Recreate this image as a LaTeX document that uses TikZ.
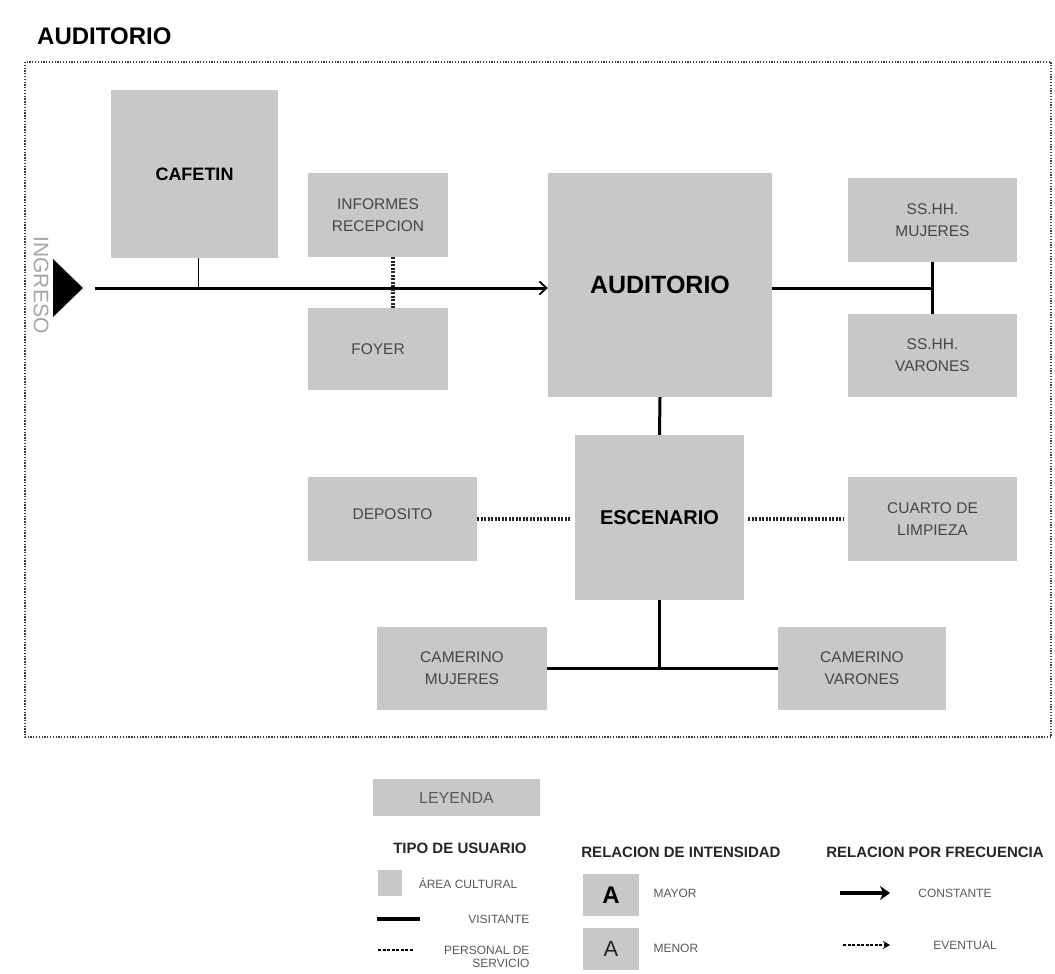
\documentclass[tikz,border=0pt]{standalone}
\usepackage{fontspec}
\setmainfont{Liberation Sans}
\usetikzlibrary{arrows.meta}
\definecolor{boxgray}{RGB}{200,200,200}
\definecolor{labelgray}{RGB}{70,70,70}
\definecolor{ingray}{RGB}{165,165,165}
\definecolor{framegray}{RGB}{60,60,60}
\definecolor{leggray}{RGB}{90,90,90}
\tikzset{
  room/.style={fill=boxgray, draw=none, inner sep=0pt, align=center,
    font=\fontsize{15.5}{22}\selectfont, text=labelgray},
  bigroom/.style={room, text=black, font=\bfseries\fontsize{18}{22}\selectfont},
  rel/.style={line width=3pt, draw=black},
  aux/.style={line width=3.2pt, draw=black!85, dash pattern=on 2pt off 1.5pt},
  framebox/.style={line width=1.5pt, draw=framegray, dash pattern=on 1.3pt off 1.5pt},
  leghead/.style={font=\bfseries\fontsize{15}{16}\selectfont, text=black!85},
  legtxt/.style={font=\fontsize{12}{13}\selectfont, text=leggray, align=right},
}
\begin{document}
\begin{tikzpicture}[x=1pt,y=-1pt]
\useasboundingbox (0,0) rectangle (1055,974);
\fill[white] (0,0) rectangle (1055,974);

% title and frame
\node[anchor=west, font=\bfseries\fontsize{24}{24}\selectfont, inner sep=0pt] (title) at (37,36) {AUDITORIO};
\draw[framebox] (25,62) rectangle (1051,737);

% rooms
\node[bigroom, minimum width=167pt, minimum height=168pt] (caf) at (194.5,174) {CAFETIN};
\node[room, minimum width=140pt, minimum height=84pt] (inf) at (378,215) {INFORMES\\RECEPCION};
\node[room, minimum width=140pt, minimum height=82pt] (foy) at (378,349) {FOYER};
\node[room, text=black, font=\bfseries\fontsize{25}{28}\selectfont, minimum width=224pt, minimum height=224pt] (aud) at (660,285) {AUDITORIO};
\node[room, minimum width=169pt, minimum height=84pt] (muj) at (932.5,220) {SS.HH.\\MUJERES};
\node[room, minimum width=169pt, minimum height=83pt] (var) at (932.5,355.5) {SS.HH.\\VARONES};
\node[room, text=black, font=\bfseries\fontsize{20}{24}\selectfont, minimum width=169pt, minimum height=165pt] (esc) at (659.5,517.5) {ESCENARIO};
\node[room, minimum width=169pt, minimum height=84pt] (dep) at (392.5,519) {\raisebox{10pt}{DEPOSITO}};
\node[room, minimum width=169pt, minimum height=84pt] (cua) at (932.5,519) {CUARTO DE\\LIMPIEZA};
\node[room, minimum width=170pt, minimum height=83pt] (cm) at (462,668.5) {CAMERINO\\MUJERES};
\node[room, minimum width=168pt, minimum height=83pt] (cv) at (862,668.5) {CAMERINO\\VARONES};

% entrance
\node[rotate=-90, text=ingray, font=\fontsize{21}{21}\selectfont, inner sep=0pt] (ingtxt) at (41,285) {INGRESO};
\coordinate (triA) at (53,259);
\coordinate (triB) at (53,317);
\coordinate (triC) at (83,288);
\fill[black] (triA) -- (triC) -- (triB) -- cycle;
\coordinate (start) at (95,288);

% connectors
\draw[rel, -{Straight Barb[length=7pt,width=13pt,line width=1.8pt]}] (start) -- (aud.west |- start);
\draw[line width=1.2pt] ([xshift=4pt]caf.south) -- ([xshift=4pt]caf.south |- start);
\draw[aux] ([xshift=15pt]inf.south) -- ([xshift=15pt]foy.north);
\draw[rel] (aud.east |- start) -- (start -| muj.south);
\draw[rel] (muj.south) -- (var.north);
\draw[rel] (aud.south) -- (esc.north);
\draw[aux, shorten >=4pt] (dep.east) -- (dep.east -| esc.west);
\draw[aux, shorten <=4pt, shorten >=5pt] (esc.east |- cua.west) -- (cua.west);
\draw[rel] (esc.south) -- (esc.south |- cm.east);
\draw[rel] (cm.east) -- (cv.west);

% legend
\node[fill=boxgray, minimum width=167pt, minimum height=37pt, inner sep=0pt, text=leggray,
      font=\fontsize{16}{18}\selectfont] (ley) at (456.5,797.5) {LEYENDA};

\node[leghead] (tipo) at (460,848) {TIPO DE USUARIO};
\node[fill=boxgray, minimum width=24pt, minimum height=26pt, inner sep=0pt] (sqc) at (390,883) {};
\node[legtxt] (acul) at (468,883) {ÁREA CULTURAL};
\coordinate (visA) at (377,919);
\coordinate (visB) at (420,919);
\draw[line width=3.2pt] (visA) -- (visB);
\node[legtxt, anchor=east] (vis) at (533,919) {VISITANTE};
\coordinate (perA) at (378,950);
\coordinate (perB) at (413,950);
\draw[line width=1.6pt, dash pattern=on 3pt off 1.5pt] (perA) -- (perB);
\node[legtxt, anchor=east] (per) at (533,957) {PERSONAL DE\\SERVICIO};

\node[leghead] (rint) at (681,852) {RELACION DE INTENSIDAD};
\node[fill=boxgray, minimum width=56pt, minimum height=42pt, inner sep=0pt,
      font=\bfseries\fontsize{24}{24}\selectfont] (amay) at (611,895) {A};
\node[fill=boxgray, minimum width=56pt, minimum height=42pt, inner sep=0pt, text=black!85,
      font=\fontsize{22}{22}\selectfont] (amen) at (611,949) {A};
\node[legtxt, anchor=west] (may) at (650,893) {MAYOR};
\node[legtxt, anchor=west] (men) at (650,948) {MENOR};

\node[leghead] (rfre) at (935,852) {RELACION POR FRECUENCIA};
\coordinate (conA) at (840,893);
\coordinate (conB) at (890,893);
\draw[line width=3.5pt, -{Stealth[length=10pt,width=14pt]}] (conA) -- (conB);
\node[legtxt] (con) at (955,893) {CONSTANTE};
\coordinate (eveA) at (843,945);
\coordinate (eveB) at (890,945);
\draw[line width=1.1pt, dash pattern=on 3pt off 1.5pt, -{Stealth[length=7pt,width=8pt]}] (eveA) -- (eveB);
\node[legtxt] (eve) at (965,945) {EVENTUAL};
\end{tikzpicture}
\end{document}
